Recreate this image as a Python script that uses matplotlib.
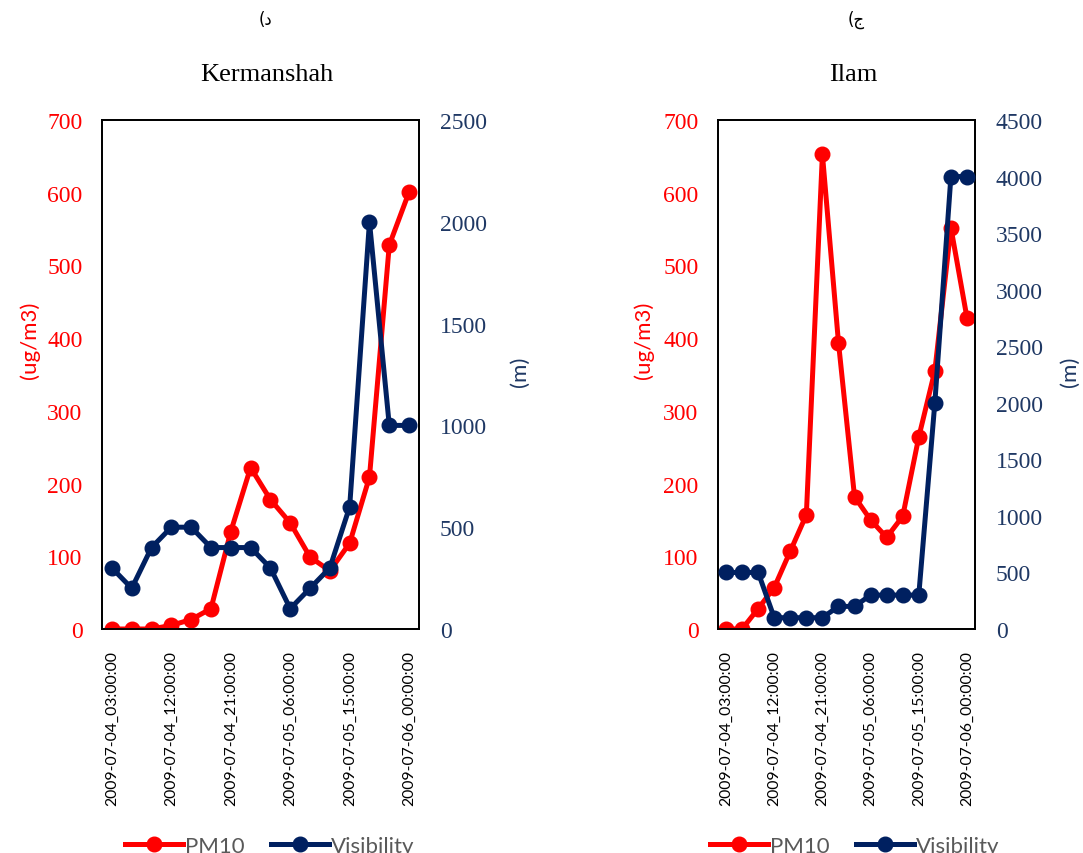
"""PM10 vs visibility for Kermanshah and Ilam, 4-6 July 2009."""

import matplotlib

matplotlib.use("Agg")
import matplotlib.pyplot as plt
from matplotlib.lines import Line2D

# 3-hourly timestamps, 2009-07-04 03:00 .. 2009-07-06 00:00
times = [
    "2009-07-04_03:00:00", "2009-07-04_06:00:00", "2009-07-04_09:00:00",
    "2009-07-04_12:00:00", "2009-07-04_15:00:00", "2009-07-04_18:00:00",
    "2009-07-04_21:00:00", "2009-07-05_00:00:00", "2009-07-05_03:00:00",
    "2009-07-05_06:00:00", "2009-07-05_09:00:00", "2009-07-05_12:00:00",
    "2009-07-05_15:00:00", "2009-07-05_18:00:00", "2009-07-05_21:00:00",
    "2009-07-06_00:00:00",
]

kerm_pm10 = [0, 0, 0, 5, 13, 28, 134, 222, 178, 146, 99, 80, 118, 209, 528, 601]
kerm_vis = [300, 200, 400, 500, 500, 400, 400, 400, 300, 100, 200, 300, 600, 2000, 1000, 1000]

ilam_pm10 = [0, 0, 28, 57, 107, 157, 653, 394, 182, 150, 126, 155, 264, 355, 552, 428]
ilam_vis = [500, 500, 500, 100, 100, 100, 100, 200, 200, 300, 300, 300, 300, 2000, 4000, 4000]

RED = "#FF0000"
NAVY = "#002060"
NAVY_TXT = "#1F3864"
SERIF = ["Liberation Serif", "DejaVu Serif"]
SANS = ["Lato", "DejaVu Sans"]

W, H = 1083, 854
fig = plt.figure(figsize=(W / 100, H / 100), dpi=100)


def px_rect(x0, x1, y0, y1):
    return [x0 / W, 1 - y1 / H, (x1 - x0) / W, (y1 - y0) / H]


def panel(rect, pm10, vis, vis_max, vis_step, title, tag, title_x, tag_x,
          ylab_x, mlab_x, leg_x):
    ax = fig.add_axes(rect)
    ax2 = ax.twinx()
    xs = list(range(len(times)))

    ax.plot(xs, pm10, color=RED, lw=3.6, marker="o", ms=10.5, zorder=3)
    ax2.plot(xs, vis, color=NAVY, lw=3.6, marker="o", ms=10.5, zorder=3)

    ax.set_xlim(-0.5, len(times) - 0.5)
    ax.set_ylim(0, 700)
    ax.set_yticks(range(0, 701, 100))
    ax2.set_ylim(0, vis_max)
    ax2.set_yticks(range(0, vis_max + 1, vis_step))

    ax.set_xticks(xs[::3])
    ax.set_xticklabels(times[::3], rotation=90, family=SANS, fontsize=11.3,
                       color="black")
    ax.tick_params(axis="x", length=0, pad=15)
    ax.tick_params(axis="y", length=0, pad=14, labelcolor=RED, labelsize=17)
    ax2.tick_params(axis="y", length=0, pad=15, labelcolor=NAVY_TXT, labelsize=17)
    for lab in ax.get_yticklabels() + ax2.get_yticklabels():
        lab.set_family(SERIF)

    for a in (ax, ax2):
        for sp in a.spines.values():
            sp.set_color("black")
            sp.set_linewidth(1.3)

    fig.text(ylab_x / W, 1 - 340 / H, "(ug/m3)", rotation=90, color=RED,
             family=SANS, fontsize=16, ha="center", va="center")
    fig.text(mlab_x / W, 1 - 372 / H, "(m)", rotation=90, color=NAVY_TXT,
             family=SANS, fontsize=16, ha="center", va="center")
    fig.text(title_x / W, 1 - 75 / H, title, family=SERIF, fontsize=19,
             ha="center", va="center")
    fig.text(tag_x / W, 1 - 20 / H, tag, family=["DejaVu Sans"], fontsize=12,
             ha="center", va="center")

    handles = [
        Line2D([], [], color=RED, lw=3.6, marker="o", ms=10.5),
        Line2D([], [], color=NAVY, lw=3.6, marker="o", ms=10.5),
    ]
    leg = fig.legend(handles, ["PM10", "Visibility"], loc="center",
                     bbox_to_anchor=(leg_x / W, 1 - 847 / H), ncol=2,
                     frameon=False, handlelength=2.6, handletextpad=0.1,
                     columnspacing=1.2, prop={"family": SANS, "size": 16})
    for t in leg.get_texts():
        t.set_color("#595959")
    return ax, ax2


panel(px_rect(102, 419, 121, 630), kerm_pm10, kerm_vis, 2500, 500,
      "Kermanshah", "(\u062f", 267, 265, 30, 520, 270)
panel(px_rect(718, 975, 121, 630), ilam_pm10, ilam_vis, 4500, 500,
      "Ilam", "(\u062c", 853, 856, 644, 1070, 855)

fig.savefig("out.png", dpi=100)
